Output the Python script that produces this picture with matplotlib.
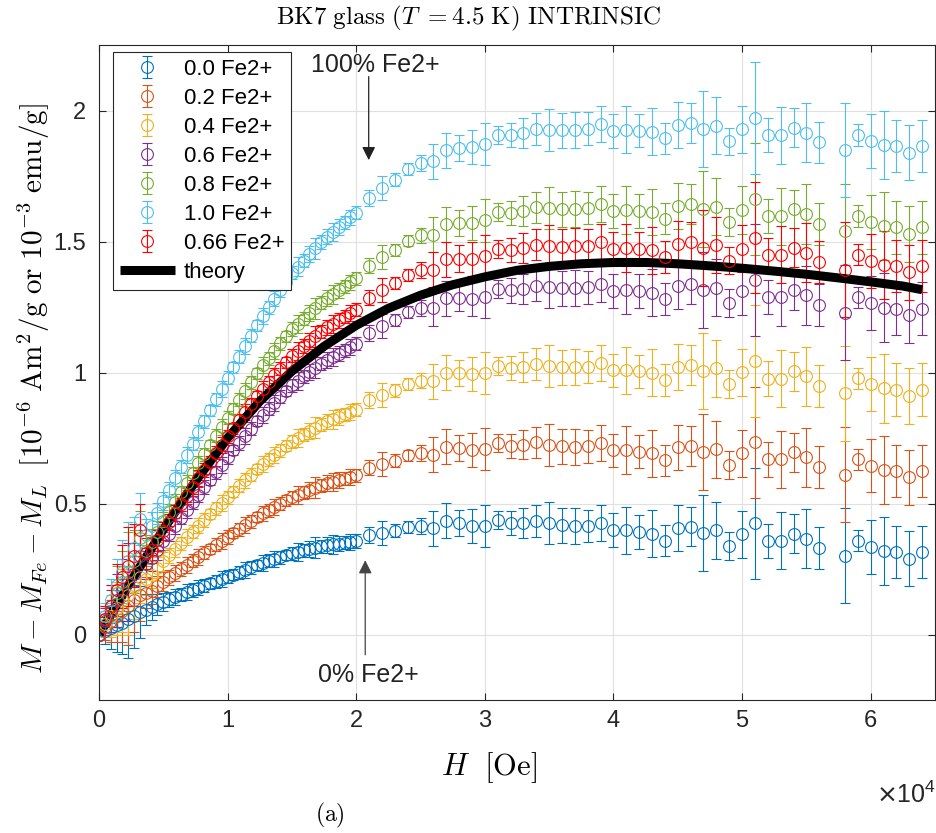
import matplotlib
matplotlib.use('Agg')
import matplotlib.pyplot as plt
from matplotlib.ticker import FixedLocator, FuncFormatter

# ---------------- data ----------------
H_OE = [0, 455, 909, 1364, 1818, 2273, 2727, 3182, 3636, 4091, 4545, 5000, 5455, 5909,
        6364, 6818, 7273, 7727, 8182, 8636, 9091, 9545, 10000, 10455, 10909, 11364,
        11818, 12273, 12727, 13182, 13636, 14091, 14545, 15000, 15455, 15909, 16364,
        16818, 17273, 17727, 18182, 18636, 19091, 19545, 20000,
        21000, 22000, 23000, 24000, 25000, 26000, 27000, 28000, 29000, 30000, 31000,
        32000, 33000, 34000, 35000, 36000, 37000, 38000, 39000, 40000, 41000, 42000,
        43000, 44000, 45000, 46000, 47000, 48000, 49000, 50000, 51000, 52000, 53000,
        54000, 55000, 56000, 58000, 59000, 60000, 61000, 62000, 63000, 64000]

M_00 = [0, .015, .025, .035, .045, .060, .070, .085, .095, .105, .115, .125, .134, .143, .152,
        .161, .170, .179, .187, .195, .204, .212, .220, .229, .238, .247, .256, .265, .274,
        .281, .288, .295, .303, .310, .315, .321, .326, .332, .337, .342, .344, .347, .351,
        .354, .357,
        .380, .389, .396, .411, .415, .406, .434, .427, .415, .415, .436, .425, .427, .434,
        .425, .417, .415, .415, .427, .398, .398, .392, .385, .358, .406, .412, .389, .398,
        .338, .383, .424, .358, .358, .385, .366, .329, .300, .358, .335, .319, .315, .290, .315]

M_02 = [0, .030, .050, .070, .090, .110, .130, .150, .160, .167, .185, .202, .218, .234, .250,
        .266, .282, .297, .312, .327, .343, .357, .372, .387, .402, .418, .433, .448, .462,
        .475, .487, .499, .512, .524, .533, .542, .551, .561, .569, .577, .583, .589, .595,
        .602, .608,
        .637, .652, .664, .684, .692, .686, .717, .713, .704, .707, .730, .721, .725, .733,
        .725, .718, .717, .718, .731, .703, .704, .698, .692, .665, .714, .720, .697, .707,
        .647, .692, .733, .668, .668, .695, .676, .639, .610, .668, .645, .629, .625, .600, .625]

M_04 = [0, .040, .070, .100, .130, .150, .180, .220, .210, .229, .254, .279, .302, .325, .348,
        .371, .393, .416, .437, .459, .481, .502, .524, .545, .567, .588, .610, .631, .651,
        .668, .686, .703, .721, .738, .751, .763, .776, .789, .801, .813, .821, .830, .840,
        .849, .858,
        .894, .915, .932, .957, .969, .966, 1.000, .999, .993, .998, 1.024, 1.017, 1.022,
        1.032, 1.026, 1.020, 1.020, 1.021, 1.035, 1.008, 1.009, 1.004, .999, .972, 1.021,
        1.028, 1.006, 1.016, .956, 1.001, 1.043, .977, .977, 1.005, .986, .949, .920, .978,
        .955, .939, .935, .910, .935]

M_06 = [0, .050, .090, .130, .170, .200, .230, .300, .270, .292, .324, .356, .385, .415, .445,
        .475, .505, .534, .563, .591, .620, .648, .676, .704, .731, .759, .786, .814, .839,
        .862, .884, .907, .929, .952, .968, .985, 1.001, 1.018, 1.034, 1.048, 1.060, 1.072,
        1.084, 1.097, 1.109,
        1.151, 1.178, 1.200, 1.230, 1.246, 1.246, 1.283, 1.285, 1.282, 1.290, 1.318, 1.313,
        1.320, 1.331, 1.326, 1.321, 1.322, 1.325, 1.339, 1.312, 1.315, 1.311, 1.305, 1.280,
        1.329, 1.336, 1.314, 1.324, 1.265, 1.311, 1.352, 1.287, 1.287, 1.314, 1.295, 1.258,
        1.229, 1.287, 1.264, 1.248, 1.244, 1.219, 1.244]

M_08 = [0, .060, .110, .160, .200, .240, .280, .370, .320, .354, .393, .433, .469, .506, .543,
        .580, .616, .653, .688, .723, .758, .793, .828, .862, .896, .929, .963, .997, 1.028,
        1.055, 1.083, 1.111, 1.138, 1.166, 1.186, 1.206, 1.226, 1.246, 1.266, 1.284, 1.298,
        1.313, 1.329, 1.344, 1.359,
        1.408, 1.441, 1.468, 1.503, 1.523, 1.526, 1.566, 1.571, 1.571, 1.581, 1.612, 1.609,
        1.617, 1.630, 1.627, 1.623, 1.625, 1.628, 1.643, 1.617, 1.620, 1.617, 1.612, 1.587,
        1.636, 1.644, 1.623, 1.633, 1.574, 1.620, 1.662, 1.596, 1.596, 1.624, 1.605, 1.568,
        1.539, 1.597, 1.574, 1.558, 1.554, 1.529, 1.554]

M_10 = [0, .070, .130, .190, .240, .280, .330, .440, .380, .416, .463, .510, .553, .597, .641,
        .685, .728, .771, .813, .855, .897, .938, .980, 1.020, 1.060, 1.100, 1.140, 1.180,
        1.216, 1.249, 1.282, 1.315, 1.347, 1.380, 1.404, 1.427, 1.451, 1.475, 1.498, 1.519,
        1.537, 1.555, 1.573, 1.592, 1.610,
        1.665, 1.704, 1.736, 1.776, 1.800, 1.806, 1.849, 1.857, 1.860, 1.873, 1.906, 1.905,
        1.915, 1.929, 1.927, 1.924, 1.927, 1.931, 1.947, 1.922, 1.926, 1.923, 1.919, 1.894,
        1.944, 1.952, 1.931, 1.942, 1.883, 1.929, 1.971, 1.906, 1.906, 1.934, 1.915, 1.878,
        1.849, 1.907, 1.884, 1.868, 1.864, 1.839, 1.864]

M_066 = [0, .060, .110, .170, .220, .260, .300, .400, .310, .324, .360, .396, .429, .463, .497,
         .530, .563, .596, .628, .660, .693, .724, .756, .787, .818, .848, .879, .910, .938,
         .963, .989, 1.014, 1.039, 1.064, 1.083, 1.101, 1.119, 1.138, 1.155, 1.172, 1.185,
         1.199, 1.213, 1.227, 1.240,
         1.286, 1.316, 1.341, 1.373, 1.391, 1.393, 1.432, 1.435, 1.434, 1.443, 1.472, 1.468,
         1.476, 1.488, 1.484, 1.479, 1.481, 1.484, 1.499, 1.472, 1.475, 1.471, 1.466, 1.441,
         1.490, 1.498, 1.476, 1.487, 1.427, 1.473, 1.515, 1.449, 1.449, 1.477, 1.458, 1.421,
         1.392, 1.450, 1.427, 1.411, 1.407, 1.382, 1.407]

ERR = [0, .05, .08, .10, .12, .15, .12, .10, .06, .05, .04, .035, .03, .03, .025, .03, .025,
       .03, .025, .02, .025, .03, .025, .02, .025, .03, .025, .02, .03, .025, .03, .025, .02,
       .025, .035, .025, .03, .04, .025, .03, .035, .03, .025, .03, .025,
       .030, .046, .024, .022, .030, .067, .067, .050, .065, .081, .035, .046, .057, .060,
       .080, .067, .069, .062, .069, .064, .090, .064, .089, .060, .087, .076, .145, .108,
       .052, .090, .213, .065, .109, .074, .113, .080, .181, .041, .103, .130, .100, .106, .100]

THEORY_H = [0, 2500, 5000, 7500, 10000, 12500, 15000, 17500, 20000, 22500, 25000, 27500,
            30000, 32500, 35000, 37500, 40000, 42500, 45000, 47500, 50000, 52500, 55000,
            57500, 60000, 62500, 64000]
THEORY_M = [0, 0.205, 0.40, 0.585, 0.75, 0.89, 1.005, 1.10, 1.18, 1.245, 1.295, 1.335,
            1.365, 1.39, 1.405, 1.415, 1.42, 1.42, 1.415, 1.407, 1.398, 1.387, 1.375,
            1.361, 1.346, 1.33, 1.316]

SERIES_LABELS = ['0.0 Fe2+', '0.2 Fe2+', '0.4 Fe2+', '0.6 Fe2+', '0.8 Fe2+', '1.0 Fe2+', '0.66 Fe2+']
SERIES_COLORS = ['#0072BD', '#D95319', '#EDB120', '#7E2F8E', '#77AC30', '#4DBEEE', '#FF0000']
X_TICKS = [0, 10000, 20000, 30000, 40000, 50000, 60000]
Y_TICKS = [0, 0.5, 1, 1.5, 2]
Y_TICK_LABELS = ['0', '0.5', '1', '1.5', '2']

# ---------------- figure ----------------
plt.rcParams['font.family'] = ['Liberation Sans', 'DejaVu Sans']
fig = plt.figure(figsize=(9.37, 8.33), dpi=100)
ax = fig.add_axes([99/937, 1 - 700/833, 836/937, 655/833])

series = [M_00, M_02, M_04, M_06, M_08, M_10, M_066]
handles = []
for ys, col, lab in zip(series, SERIES_COLORS, SERIES_LABELS):
    h = ax.errorbar(H_OE, ys, yerr=ERR, fmt='o', mfc='none', mec=col, ecolor=col,
                    ms=8.5, mew=0.8, elinewidth=0.8, capsize=3.8, capthick=0.8, label=lab)
    handles.append(h)
th, = ax.plot(THEORY_H, THEORY_M, color='k', lw=6.5, label='theory',
              solid_capstyle='butt', solid_joinstyle='round')
handles.append(th)

ax.set_xlim(0, 65000)
ax.set_ylim(-0.25, 2.25)
ax.xaxis.set_major_locator(FixedLocator(X_TICKS))
ax.xaxis.set_major_formatter(FuncFormatter(lambda v, p: f"{v/1e4:g}"))
ax.yaxis.set_major_locator(FixedLocator(Y_TICKS))
ax.set_yticklabels(Y_TICK_LABELS)
ax.tick_params(direction='in', top=True, right=True, length=5, width=0.8,
               color='#262626', labelcolor='#262626', labelsize=17)
ax.tick_params(axis='x', pad=7)
ax.tick_params(axis='y', pad=9)
for s in ax.spines.values():
    s.set_color('#262626')
    s.set_linewidth(0.8)
ax.grid(True, color='#e0e0e0', lw=0.8)
ax.set_axisbelow(True)

leg = ax.legend(handles=handles, labels=SERIES_LABELS + ['theory'],
                loc='upper left', bbox_to_anchor=(0.0167, 0.989), borderaxespad=0,
                fontsize=16, frameon=True, fancybox=False, framealpha=1,
                edgecolor='#262626', handlelength=2.5, labelspacing=0.36,
                borderpad=0.3, handletextpad=0.4)
leg.get_frame().set_linewidth(0.8)

# annotations
ax.annotate('', xy=(20970, 1.80), xytext=(20970, 2.14),
            arrowprops=dict(arrowstyle='-|>', color='#222222', lw=0.9, mutation_scale=20))
ax.text(21500, 2.172, '100% Fe2+', ha='center', va='center', fontsize=18, color='#222222')
ax.annotate('', xy=(20700, 0.294), xytext=(20700, -0.088),
            arrowprops=dict(arrowstyle='-|>', color='#444444', lw=0.9, mutation_scale=20))
ax.text(20950, -0.156, '0% Fe2+', ha='center', va='center', fontsize=18, color='#222222')

# labels
fig.text(468/937, 1 - 18/833,
         r'$\mathrm{BK7\ glass\ }(T\ = 4.5\ \mathrm{K})\ \mathrm{INTRINSIC}$',
         ha='center', va='center', fontsize=18, math_fontfamily='cm')
ax.set_xlabel(r'$H\ \ [\mathrm{Oe}]$', fontsize=22, math_fontfamily='cm')
ax.xaxis.set_label_coords((489 - 99) / 836, -(750 - 700) / 655)
ax.set_ylabel(r'$M - M_{Fe} - M_L\ \ [10^{-6}\ \mathrm{Am}^2\mathrm{/g\ or\ }10^{-3}\ \mathrm{emu/g}]$',
              fontsize=21, math_fontfamily='cm')
ax.yaxis.set_label_coords(-(99 - 52) / 836, (700 - 389) / 655)
fig.text(906/937, 1 - 795/833, r'$\times\mathregular{10^{4}}$', ha='center', va='center',
         fontsize=18, color='#262626')
fig.text(330/937, 1 - 815/833, r'$\mathrm{(a)}$', ha='center', va='center', fontsize=17,
         math_fontfamily='cm')

fig.savefig('out.png', dpi=100)
